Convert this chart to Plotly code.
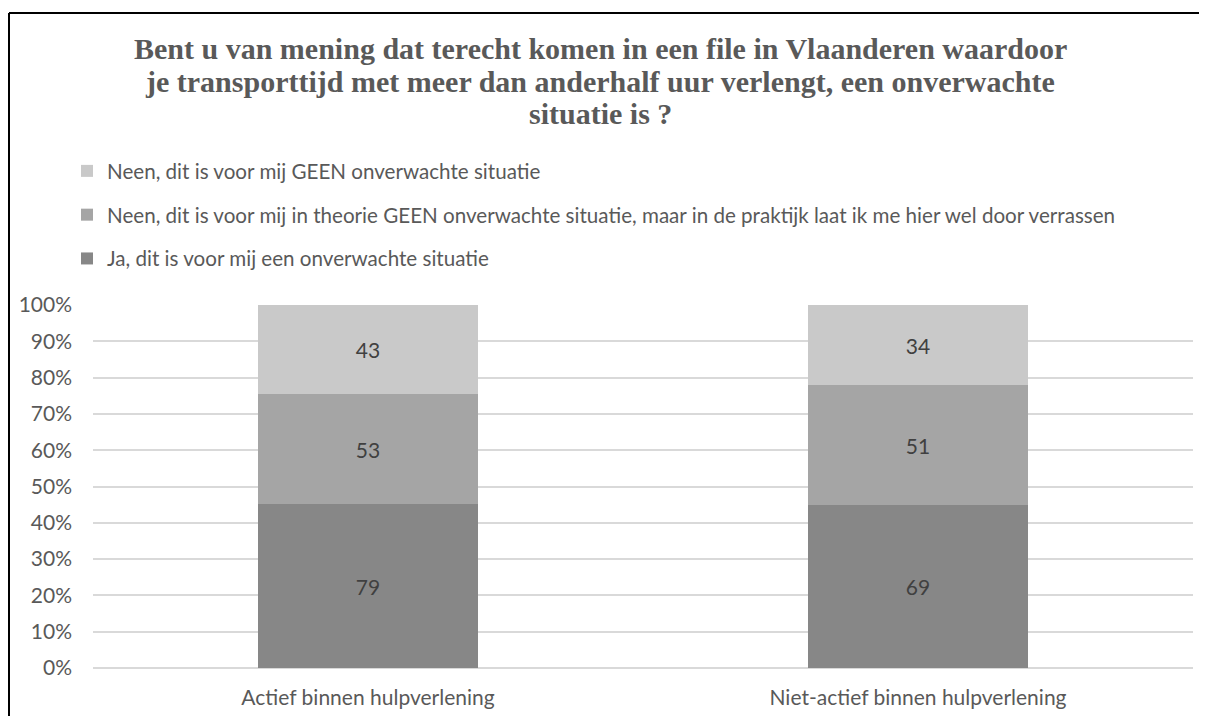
import plotly.graph_objects as go

# --- data ---
categories = ["Actief binnen hulpverlening", "Niet-actief binnen hulpverlening"]
series_names = [
    "Ja, dit is voor mij een onverwachte situatie",
    "Neen, dit is voor mij in theorie GEEN onverwachte situatie, maar in de praktijk laat ik me hier wel door verrassen",
    "Neen, dit is voor mij GEEN onverwachte situatie",
]
ja_values = [79, 69]
theorie_values = [53, 51]
geen_values = [43, 34]
y_ticks = [0, 10, 20, 30, 40, 50, 60, 70, 80, 90, 100]

colors = ["#878787", "#a5a5a5", "#c9c9c9"]
title_lines = [
    "Bent u van mening dat terecht komen in een file in Vlaanderen waardoor",
    "je transporttijd met meer dan anderhalf uur verlengt, een onverwachte",
    "situatie is ?",
]

W, H = 1207, 716
OFF = 8  # page body margin: the figure is drawn 8px right/down of the window corner
# plot area in window pixels
x_left, x_right, y_top, y_bottom = 93, 1193, 305, 668
L, T = x_left - OFF, y_top - OFF
R, B = W + OFF - x_right, H + OFF - y_bottom
pw, ph = x_right - x_left, y_bottom - y_top

def px(x):  # window pixel -> paper x
    return (x - x_left) / pw

def py(y):  # window pixel -> paper y
    return (y_bottom - y) / ph

fig = go.Figure()
for rank, (name, vals, col) in enumerate(zip(series_names, [ja_values, theorie_values, geen_values], colors)):
    fig.add_trace(go.Bar(
        x=categories, y=vals, name=name, marker_color=col, marker_line_width=0,
        text=vals, textposition="inside", insidetextanchor="middle",
        textfont=dict(color="#404040", size=21, family="Lato"),
        legendgroup=name, legendrank=3 - rank, width=0.4,
    ))

# title lines
for i, line in enumerate(title_lines):
    fig.add_annotation(
        text=f"<b>{line}</b>", xref="paper", yref="paper",
        x=px(600), y=py(48 + i * 33), xanchor="center", yanchor="middle",
        showarrow=False, font=dict(family="Liberation Serif", size=30, color="#595959"),
    )

# frame (top and left edges visible)
fig.add_shape(type="line", xref="paper", yref="paper", x0=px(9), x1=px(W + 20), y0=py(13), y1=py(13),
              line=dict(color="black", width=2))
fig.add_shape(type="line", xref="paper", yref="paper", x0=px(9), x1=px(9), y0=py(13), y1=py(H + 20),
              line=dict(color="black", width=2))

fig.update_layout(
    width=W, height=H,
    margin=dict(l=L, r=R, t=T, b=B, autoexpand=False),
    barmode="stack", barnorm="percent",
    plot_bgcolor="white", paper_bgcolor="white",
    font=dict(family="Lato", size=21, color="#595959"),
    legend=dict(
        x=px(67), y=py(151), xanchor="left", yanchor="top",
        traceorder="grouped", tracegroupgap=14,
        font=dict(size=20.6, color="#595959"), itemwidth=30,
    ),
    showlegend=True,
)
fig.update_yaxes(
    range=[0, 100], tickvals=y_ticks, ticktext=[f"{v}%" for v in y_ticks],
    showgrid=True, gridcolor="#d9d9d9", gridwidth=1.5,
    zeroline=True, zerolinecolor="#d9d9d9", zerolinewidth=1.5,
    ticklabelstandoff=20, tickfont=dict(size=21, color="#595959"),
)
fig.update_xaxes(showgrid=False, ticklabelstandoff=15, tickfont=dict(size=21, color="#595959"))

fig.write_html("out.html")
